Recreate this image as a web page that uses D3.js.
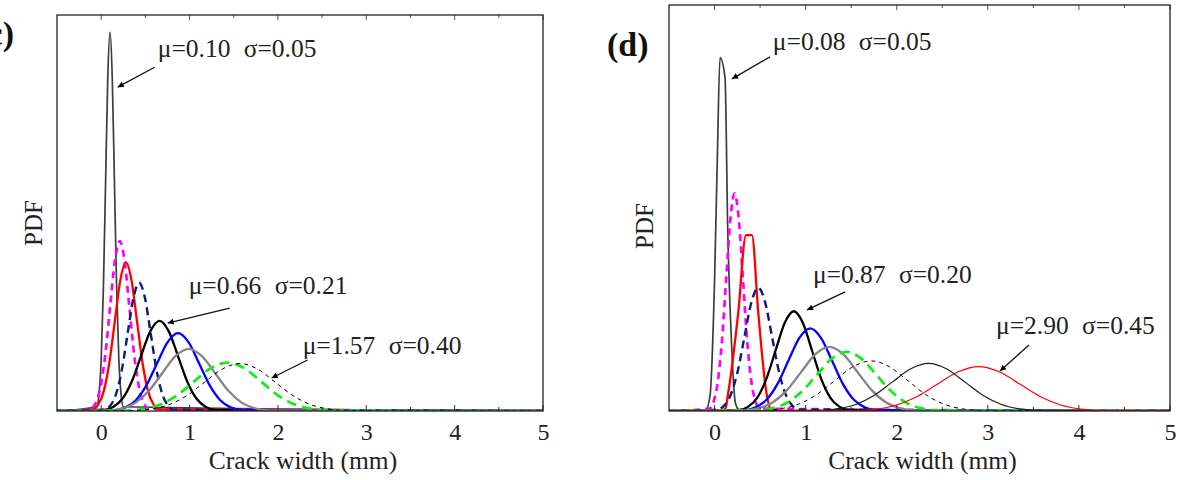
<!DOCTYPE html>
<html><head><meta charset="utf-8">
<script src="https://cdn.jsdelivr.net/npm/d3@7"></script>
<style>body{margin:0;background:#fff} svg{display:block}</style>
</head><body>
<svg id="chart" width="1179" height="480"></svg>
<script>
// ---------------- DATA ----------------
const xTickValues = [0, 1, 2, 3, 4, 5];
const xMinorTickValues = [0.5, 1.5, 2.5, 3.5, 4.5];
const xDomain = [-0.5, 5];
const xTitle = "Crack width (mm)";
const yTitle = "PDF";
const panelNames = ["(c)", "(d)"];
const annotTextC = [["μ=0.10", "σ=0.05"], ["μ=0.66", "σ=0.21"], ["μ=1.57", "σ=0.40"]];
const annotTextD = [["μ=0.08", "σ=0.05"], ["μ=0.87", "σ=0.20"], ["μ=2.90", "σ=0.45"]];

// panel (c) curves: [crack width, PDF]
const curveC1 = [[-0.05,0.089],[-0.025,0.350],[0.0,1.080],[0.025,2.591],[0.05,4.840],[0.075,7.042],[0.10,7.98],[0.125,7.042],[0.15,4.840],[0.175,2.591],[0.20,1.080],[0.225,0.350],[0.25,0.089]];
const curveC2 = [[-0.12,0.040],[-0.065,0.157],[-0.01,0.484],[0.045,1.162],[0.10,2.171],[0.155,3.159],[0.21,3.58],[0.265,3.159],[0.32,2.171],[0.375,1.162],[0.43,0.484],[0.485,0.157],[0.54,0.040]];
const curveC3 = [[-0.095,0.035],[-0.0325,0.137],[0.03,0.423],[0.0925,1.016],[0.155,1.898],[0.2175,2.762],[0.28,3.13],[0.3425,2.762],[0.405,1.898],[0.4675,1.016],[0.53,0.423],[0.5925,0.137],[0.655,0.035]];
const curveC4 = [[0.04,0.030],[0.105,0.119],[0.17,0.365],[0.235,0.877],[0.30,1.638],[0.365,2.383],[0.43,2.70],[0.495,2.383],[0.56,1.638],[0.625,0.877],[0.69,0.365],[0.755,0.119],[0.82,0.030]];
const curveC5 = [[0.03,0.021],[0.135,0.083],[0.24,0.257],[0.345,0.617],[0.45,1.152],[0.555,1.677],[0.66,1.90],[0.765,1.677],[0.87,1.152],[0.975,0.617],[1.08,0.257],[1.185,0.083],[1.29,0.021]];
const curveC6 = [[0.15,0.018],[0.27,0.072],[0.39,0.222],[0.51,0.533],[0.63,0.995],[0.75,1.447],[0.87,1.64],[0.99,1.447],[1.11,0.995],[1.23,0.533],[1.35,0.222],[1.47,0.072],[1.59,0.018]];
const curveC7 = [[0.09,0.015],[0.24,0.058],[0.39,0.177],[0.54,0.425],[0.69,0.795],[0.84,1.156],[0.99,1.31],[1.14,1.156],[1.29,0.795],[1.44,0.425],[1.59,0.177],[1.74,0.058],[1.89,0.015]];
const curveC8 = [[0.29,0.011],[0.48,0.045],[0.67,0.138],[0.86,0.331],[1.05,0.619],[1.24,0.900],[1.43,1.02],[1.62,0.900],[1.81,0.619],[2.00,0.331],[2.19,0.138],[2.38,0.045],[2.57,0.011]];
const curveC9 = [[0.37,0.011],[0.57,0.044],[0.77,0.135],[0.97,0.325],[1.17,0.607],[1.37,0.883],[1.57,1.0],[1.77,0.883],[1.97,0.607],[2.17,0.325],[2.37,0.135],[2.57,0.044],[2.77,0.011]];

// panel (d) curves
const curveD1 = [[-0.10,0],[-0.05,0.3],[0.0,2.6],[0.03,5.0],[0.06,7.05],[0.115,6.65],[0.145,3.6],[0.19,1.2],[0.23,0.15],[0.28,0]];
const curveD2 = [[-0.056,0.048],[-0.01,0.191],[0.036,0.587],[0.082,1.409],[0.128,2.632],[0.174,3.830],[0.22,4.34],[0.266,3.830],[0.312,2.632],[0.358,1.409],[0.404,0.587],[0.45,0.191],[0.496,0.048]];
const curveD3 = [[0.06,0],[0.12,0.05],[0.15,0.36],[0.26,1.96],[0.345,3.51],[0.41,3.51],[0.48,1.96],[0.57,0.36],[0.62,0.03],[0.68,0]];
const curveD4 = [[0.03,0.027],[0.105,0.108],[0.18,0.333],[0.255,0.799],[0.33,1.492],[0.405,2.171],[0.48,2.46],[0.555,2.171],[0.63,1.492],[0.705,0.799],[0.78,0.333],[0.855,0.108],[0.93,0.027]];
const curveD5 = [[0.27,0.022],[0.37,0.087],[0.47,0.269],[0.57,0.646],[0.67,1.207],[0.77,1.756],[0.87,1.99],[0.97,1.756],[1.07,1.207],[1.17,0.646],[1.27,0.269],[1.37,0.087],[1.47,0.022]];
const curveD6 = [[0.33,0.018],[0.45,0.072],[0.57,0.223],[0.69,0.536],[0.81,1.001],[0.93,1.456],[1.05,1.65],[1.17,1.456],[1.29,1.001],[1.41,0.536],[1.53,0.223],[1.65,0.072],[1.77,0.018]];
const curveD7 = [[0.33,0.014],[0.485,0.056],[0.64,0.173],[0.795,0.416],[0.95,0.776],[1.105,1.130],[1.26,1.28],[1.415,1.130],[1.57,0.776],[1.725,0.416],[1.88,0.173],[2.035,0.056],[2.19,0.014]];
const curveD8 = [[0.46,0.013],[0.625,0.052],[0.79,0.160],[0.955,0.383],[1.12,0.716],[1.285,1.041],[1.45,1.18],[1.615,1.041],[1.78,0.716],[1.945,0.383],[2.11,0.160],[2.275,0.052],[2.44,0.013]];
const curveD9 = [[0.52,0.011],[0.72,0.044],[0.92,0.135],[1.12,0.325],[1.32,0.607],[1.52,0.883],[1.72,1.0],[1.92,0.883],[2.12,0.607],[2.32,0.325],[2.52,0.135],[2.72,0.044],[2.92,0.011]];
const curveD10 = [[1.15,0.011],[1.35,0.042],[1.55,0.129],[1.75,0.308],[1.95,0.576],[2.15,0.838],[2.35,0.95],[2.55,0.838],[2.75,0.576],[2.95,0.308],[3.15,0.129],[3.35,0.042],[3.55,0.011]];
const curveD11 = [[1.55,0.010],[1.775,0.039],[2.0,0.120],[2.225,0.288],[2.45,0.538],[2.675,0.783],[2.9,0.887],[3.125,0.783],[3.35,0.538],[3.575,0.288],[3.8,0.120],[4.025,0.039],[4.25,0.010]];

// ---------------- STYLES / LAYOUT ----------------
const styles = {
  spike:   {stroke:"#3c3c3c", w:1.7, dash:null},
  magenta: {stroke:"#ff00ff", w:2.7, dash:"7,5"},
  red:     {stroke:"#ff0000", w:2.3, dash:null},
  navy:    {stroke:"#0c1c7a", w:2.4, dash:"8,5"},
  black:   {stroke:"#000000", w:2.3, dash:null},
  blue:    {stroke:"#0000ff", w:2.3, dash:null},
  gray:    {stroke:"#858585", w:2.3, dash:null},
  green:   {stroke:"#11ee11", w:2.7, dash:"10,6"},
  bdash:   {stroke:"#000000", w:1.0, dash:"4,4"},
  bthin:   {stroke:"#1a1a1a", w:1.2, dash:null},
  rthin:   {stroke:"#ff0000", w:1.2, dash:null}
};
const order = ["spike","magenta","red","navy","black","blue","gray","green","bdash","bthin","rthin"];

const panels = [
  {name: panelNames[0], left:57, right:543, top:15, bottom:411, yMax:8.34,
   curves:[curveC1,curveC2,curveC3,curveC4,curveC5,curveC6,curveC7,curveC8,curveC9],
   annots: annotTextC,
   nameX:14, nameY:45, nameAnchor:"end",
   pdfX:33, pdfY:223,
   ann:[{t:[0.64,7.45], a:[0.605,7.24], h:[0.187,6.82]},
        {t:[0.99,2.47], a:[1.454,2.168], h:[0.752,1.853]},
        {t:[2.28,1.21], a:[2.336,1.074], h:[1.929,0.695]}]},
  {name: panelNames[1], left:669, right:1170, top:5, bottom:411, yMax:8.1,
   curves:[curveD1,curveD2,curveD3,curveD4,curveD5,curveD6,curveD7,curveD8,curveD9,curveD10,curveD11],
   annots: annotTextD,
   nameX:607, nameY:56, nameAnchor:"start",
   pdfX:644, pdfY:226,
   ann:[{t:[0.64,7.2], a:[0.609,7.066], h:[0.192,6.627]},
        {t:[1.08,2.56], a:[1.433,2.375], h:[1.015,2.016]},
        {t:[3.09,1.54], a:[3.452,1.317], h:[3.134,0.798]}]}
];

const FONT = "'Liberation Serif','Times New Roman',serif";
const svg = d3.select("#chart");
const defs = svg.append("defs");
defs.append("marker").attr("id","arrow").attr("viewBox","0 0 10 10")
  .attr("refX",10).attr("refY",5).attr("markerWidth",11).attr("markerHeight",6)
  .attr("markerUnits","userSpaceOnUse").attr("orient","auto")
  .append("path").attr("d","M0,0 L10,5 L0,10 Z").attr("fill","#000");

panels.forEach((p, pi) => {
  const x = d3.scaleLinear().domain(xDomain).range([p.left, p.right]);
  const y = d3.scaleLinear().domain([0, p.yMax]).range([p.bottom, p.top]);
  const g = svg.append("g");
  const clipId = "clip" + pi;
  defs.append("clipPath").attr("id", clipId).append("rect")
    .attr("x", p.left).attr("y", p.top).attr("width", p.right - p.left).attr("height", p.bottom - p.top);

  const line = d3.line().x(d => x(d[0])).y(d => y(d[1])).curve(d3.curveMonotoneX);
  const cg = g.append("g").attr("clip-path", `url(#${clipId})`);
  p.curves.forEach((c, i) => {
    const st = styles[order[i]];
    const pts = [[xDomain[0], 0], ...c, [xDomain[1], 0]];
    cg.append("path").attr("d", line(pts)).attr("fill","none")
      .attr("stroke", st.stroke).attr("stroke-width", st.w)
      .attr("stroke-dasharray", st.dash).attr("stroke-linejoin","round");
  });

  // axes (ticks inside)
  const bottomAxis = d3.axisBottom(x).tickValues(xTickValues).tickSize(0).tickPadding(12)
    .tickFormat(d3.format("d"));
  const ax = g.append("g").attr("transform", `translate(0,${p.bottom})`).call(bottomAxis);
  ax.select(".domain").remove();
  ax.selectAll("text").attr("font-family", FONT).attr("font-size", 24).attr("fill","#222").attr("dy", "0.71em");
  const allTicks = xTickValues.concat(xMinorTickValues);
  g.selectAll(".tb").data(allTicks).enter().append("line")
    .attr("x1", d => x(d)).attr("x2", d => x(d))
    .attr("y1", p.bottom).attr("y2", d => p.bottom - (Number.isInteger(d) ? 6 : 4))
    .attr("stroke","#333").attr("stroke-width",1);
  g.selectAll(".tt").data(allTicks).enter().append("line")
    .attr("x1", d => x(d)).attr("x2", d => x(d))
    .attr("y1", p.top).attr("y2", d => p.top + (Number.isInteger(d) ? 5 : 3))
    .attr("stroke","#555").attr("stroke-width",1);

  // frame
  g.append("rect").attr("x", p.left).attr("y", p.top)
    .attr("width", p.right - p.left).attr("height", p.bottom - p.top)
    .attr("fill","none").attr("stroke","#222").attr("stroke-width",1.3);

  // titles
  g.append("text").attr("x", (p.left + p.right) / 2 + 3).attr("y", p.bottom + 58)
    .attr("text-anchor","middle").attr("font-family", FONT).attr("font-size", 25.5).attr("fill","#222")
    .text(xTitle);
  g.append("text").attr("transform", `translate(${p.pdfX},${p.pdfY}) rotate(-90)`)
    .attr("text-anchor","middle").attr("dy","0.35em").attr("font-family", FONT).attr("font-size", 25).attr("fill","#222")
    .text(yTitle);
  g.append("text").attr("x", p.nameX).attr("y", p.nameY).attr("text-anchor", p.nameAnchor)
    .attr("font-family", FONT).attr("font-weight","bold").attr("font-size", 34).attr("fill","#111")
    .text(p.name);

  // annotations
  p.ann.forEach((a, i) => {
    const tx = x(a.t[0]), ty = y(a.t[1]);
    const t = g.append("text").attr("font-family", FONT).attr("font-size", 25.5).attr("fill","#222");
    t.append("tspan").attr("x", tx).attr("y", ty).text(p.annots[i][0]);
    t.append("tspan").attr("x", tx + 86).attr("y", ty).text(p.annots[i][1]);
    g.append("line").attr("x1", x(a.a[0])).attr("y1", y(a.a[1]))
      .attr("x2", x(a.h[0])).attr("y2", y(a.h[1]))
      .attr("stroke","#111").attr("stroke-width",1.3).attr("marker-end","url(#arrow)");
  });
});
</script>
</body></html>
